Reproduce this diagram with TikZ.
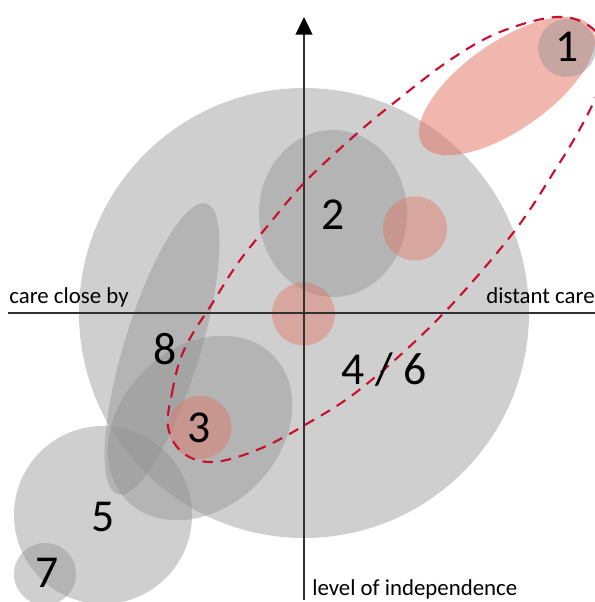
\documentclass[tikz,border=0pt]{standalone}
\usepackage{fontspec}
\setmainfont{Carlito}
\usetikzlibrary{arrows.meta}

\definecolor{blobgray}{RGB}{145,145,145}
\definecolor{blobpink}{RGB}{228,112,94}
\definecolor{loopred}{RGB}{200,16,46}
\definecolor{axisgray}{RGB}{50,50,50}

\begin{document}
\begin{tikzpicture}[x=0.02cm, y=0.02cm,
    blob/.style={fill=blobgray, fill opacity=0.44},
    pinkblob/.style={fill=blobpink, fill opacity=0.5},
    pinkdot/.style={fill=blobpink, fill opacity=0.42},
    numlabel/.style={font=\fontsize{26}{30}\selectfont, inner sep=0pt},
    axislabel/.style={font=\fontsize{13}{15}\selectfont, inner sep=0pt},
    axisline/.style={draw=axisgray, line width=1pt},
    careloop/.style={draw=loopred, line width=1.2pt, dash pattern=on 6pt off 4.5pt}
]
    \clip (0,0) rectangle (595,602);

    % grey areas
    \fill[blob] (304,289) circle (225);
    \fill[blob] (333,388.5) ellipse [x radius=74, y radius=83.5];
    \fill[blob, rotate around={73:(162,253)}] (162,253) ellipse [x radius=152, y radius=38];
    \fill[blob, rotate around={45:(200,174)}] (200,174) ellipse [x radius=103, y radius=80];
    \fill[blob] (103,87) circle (89);
    \fill[blob] (45,28) circle (31);

    % red areas
    \fill[pinkdot] (415,373.5) circle (32);
    \fill[pinkdot] (303.5,288) circle (31.5);
    \fill[pinkdot] (200,174.5) circle (31.5);
    \fill[pinkblob, rotate around={35:(507,516)}] (507,516) ellipse [x radius=103, y radius=44];
    \fill[blob] (567,554) circle (29);

    % axes
    \coordinate (xmin) at (8,289);
    \coordinate (xmax) at (595,289);
    \coordinate (ymin) at (304,2);
    \coordinate (ymax) at (304,585);
    \draw[axisline] (xmin) -- (xmax);
    \draw[axisline, -{Triangle[width=9.5pt, length=10pt, color=black]}] (ymin) -- (ymax);

    % dashed loop
    \draw[careloop] plot[smooth cycle, tension=0.6] coordinates {
        (168,175) (172,209) (180,242) (193,269) (210,295) (238,339)
        (270,379) (305,420) (353,465) (395,500) (450,542) (500,570)
        (557,585) (592,574) (609,545) (598,510) (581,475) (557,435)
        (513,369) (440,285) (363,215) (305,177) (257,152) (213,140)
        (183,149)};

    % axis labels
    \node[axislabel, anchor=base west] (close) at (9,298) {care close by};
    \node[axislabel, anchor=base east] (distant) at (595,298) {distant care};
    \node[axislabel, anchor=base west] (indep) at (312,7) {level of independence};

    % numbers
    \node[numlabel] (n1) at (567,555) {1};
    \node[numlabel] (n2) at (333,387) {2};
    \node[numlabel] (n3) at (199,174) {3};
    \node[numlabel] (n46) at (384,232) {4 / 6};
    \node[numlabel] (n5) at (103,85) {5};
    \node[numlabel] (n7) at (47,29) {7};
    \node[numlabel] (n8) at (165,253) {8};
\end{tikzpicture}
\end{document}
